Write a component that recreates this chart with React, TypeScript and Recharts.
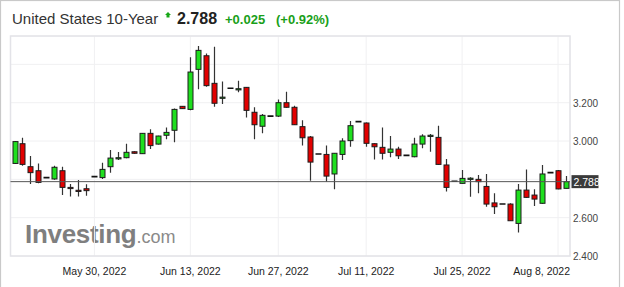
import React from 'react';
import { ComposedChart, Bar, XAxis, YAxis, CartesianGrid, ReferenceLine, ReferenceArea } from 'recharts';

// daily candles
const opens = [
  2.883, 2.986, 2.866, 2.845, 2.809, 2.802, 2.845, 2.758, 2.743, 2.751,
  2.814, 2.809, 2.866, 2.911, 2.913, 2.944, 2.934, 3.040, 2.984, 3.030,
  3.056, 3.181, 3.165, 3.374, 3.445, 3.301, 3.226, 3.275, 3.271, 3.280,
  3.150, 3.077, 3.130, 3.130, 3.200, 3.176, 3.075, 3.021, 2.932, 2.930,
  2.828, 2.930, 3.002, 3.101, 3.094, 2.986, 2.967, 2.941, 2.958, 2.925,
  2.918, 2.984, 3.028, 3.019, 2.875, 2.790, 2.779, 2.805, 2.800, 2.763,
  2.677, 2.671, 2.671, 2.570, 2.744, 2.718, 2.675, 2.835, 2.845, 2.753,
];
const highs = [
  3.000, 3.017, 2.922, 2.883, 2.809, 2.871, 2.866, 2.776, 2.797, 2.774,
  2.814, 2.887, 2.953, 2.943, 2.986, 2.946, 3.042, 3.061, 3.028, 3.071,
  3.170, 3.183, 3.437, 3.496, 3.457, 3.492, 3.310, 3.275, 3.315, 3.282,
  3.176, 3.141, 3.130, 3.216, 3.257, 3.184, 3.108, 3.026, 2.932, 2.976,
  2.936, 3.014, 3.104, 3.101, 3.097, 2.988, 3.071, 3.026, 2.970, 2.925,
  3.017, 3.035, 3.037, 3.080, 2.906, 2.790, 2.849, 2.811, 2.823, 2.828,
  2.727, 2.671, 2.675, 2.776, 2.852, 2.748, 2.875, 2.835, 2.849, 2.817,
];
const lows = [
  2.880, 2.871, 2.776, 2.779, 2.809, 2.798, 2.718, 2.710, 2.710, 2.715,
  2.814, 2.802, 2.835, 2.901, 2.910, 2.934, 2.932, 2.958, 2.982, 3.009,
  2.993, 3.167, 3.160, 3.270, 3.283, 3.179, 3.193, 3.275, 3.254, 3.123,
  3.009, 3.040, 3.130, 3.125, 3.174, 3.083, 2.976, 2.793, 2.932, 2.788,
  2.748, 2.901, 2.970, 3.101, 2.970, 2.904, 2.904, 2.915, 2.906, 2.925,
  2.915, 2.962, 2.944, 2.876, 2.736, 2.790, 2.777, 2.709, 2.727, 2.657,
  2.619, 2.671, 2.584, 2.522, 2.704, 2.661, 2.673, 2.835, 2.748, 2.752,
];
const closes = [
  2.997, 2.878, 2.835, 2.784, 2.809, 2.863, 2.758, 2.755, 2.740, 2.741,
  2.814, 2.852, 2.911, 2.913, 2.941, 2.936, 3.040, 2.976, 3.026, 3.045,
  3.165, 3.169, 3.360, 3.473, 3.289, 3.197, 3.229, 3.275, 3.273, 3.160,
  3.085, 3.134, 3.130, 3.200, 3.176, 3.085, 3.017, 2.890, 2.932, 2.817,
  2.936, 3.000, 3.080, 3.101, 2.988, 2.970, 2.936, 2.958, 2.923, 2.925,
  2.984, 3.026, 3.030, 2.878, 2.758, 2.790, 2.805, 2.806, 2.788, 2.671,
  2.657, 2.671, 2.584, 2.744, 2.706, 2.697, 2.828, 2.835, 2.750, 2.788,
];

const tickIdx = [10, 22, 33, 44, 56, 68];
const tickLabels = ['May 30, 2022', 'Jun 13, 2022', 'Jun 27, 2022', 'Jul 11, 2022', 'Jul 25, 2022', 'Aug 8, 2022'];
const priceTicks = [2.4, 2.6, 2.8, 3.0, 3.2, 3.4];
const labelledTicks = [2.4, 2.6, 3.0, 3.2];
const lastPrice = 2.788;

const W = 624;
const H = 287;
const margin = { top: 36, right: 4, bottom: 0, left: 10.5 };
const Y_W = 50;
const PLOT_RIGHT = W - margin.right - Y_W;
const FONT = '"Liberation Sans", Arial, Helvetica, sans-serif';

const UP = '#1fdf1f';
const DOWN = '#e20000';
const EDGE = '#1c1c1c';

const candles = opens.map((o, i) => ({ i, open: o, high: highs[i], low: lows[i], close: closes[i] }));

function Candle(props: any) {
  let { x, y, width, height, payload } = props;
  if (height < 0) { y += height; height = -height; }
  const { open, close, high, low } = payload;
  const cx = Math.round(x + width / 2) + 0.5;
  const span = high - low;
  const k = span > 0 ? height / span : 0;
  const yOf = (v: number) => y + (high - v) * k;

  if (span === 0) {
    // flat day, just a dash
    return <line x1={cx - 3} x2={cx + 3} y1={y} y2={y} stroke="#111" strokeWidth={1.6} />;
  }
  const top = yOf(Math.max(open, close));
  const bot = yOf(Math.min(open, close));
  const bh = Math.max(1.2, bot - top);
  return (
    <g>
      <line x1={cx} x2={cx} y1={y} y2={y + height} stroke="#333" strokeWidth={1.2} />
      <rect x={cx - 2.5} y={top} width={5} height={bh} fill={close >= open ? UP : DOWN} stroke={EDGE} strokeWidth={1} />
    </g>
  );
}

function DateTick(props: any) {
  const { x, y, payload } = props;
  const n = tickIdx.indexOf(payload.value);
  if (n < 0) return <g />;
  const label = tickLabels[n];
  const half = label.length * 2.6;
  const clamp = x + half > PLOT_RIGHT;
  return (
    <text x={clamp ? PLOT_RIGHT : x} y={y + 19} textAnchor={clamp ? 'end' : 'middle'} fontSize={10.5} fill="#222" fontFamily={FONT}>
      {label}
    </text>
  );
}

function PriceTick(props: any) {
  const { x, y, payload } = props;
  if (!labelledTicks.includes(payload.value)) return <g />;
  return (
    <text x={x} y={y + 4} fontSize={10} fill="#444" fontFamily={FONT}>
      {payload.value.toFixed(3)}
    </text>
  );
}

function PriceTag(props: any) {
  const { viewBox } = props;
  const x = viewBox.x + viewBox.width + 1.5;
  const y = viewBox.y;
  return (
    <g>
      <rect x={x} y={y - 6.5} width={27} height={13} fill="#3a3a3a" />
      <text x={x + 2} y={y + 4} fontSize={10.5} fill="#fff" fontFamily={FONT}>{lastPrice.toFixed(3)}</text>
    </g>
  );
}

export default function App() {
  return (
    <div style={{ position: 'absolute', left: 0, top: 0, width: W, height: H, background: '#fff', overflow: 'hidden' }}>
      <svg width={W} height={H} style={{ position: 'absolute', left: 0, top: 0 }}>
        <rect x={0.5} y={0.5} width={619} height={H + 10} fill="none" stroke="#c9c9c9" strokeWidth={1.2} />
        <text x={12} y={24} fontSize={15} fill="#333" fontFamily={FONT}>United States 10-Year</text>
        <path d="M168 12 L171 15 L169.5 15 L169.5 17.5 L166.5 17.5 L166.5 15 L165 15 Z" fill="#18a818" />
        <text x={177} y={24} fontSize={16} fontWeight="bold" fill="#222" fontFamily={FONT}>2.788</text>
        <text x={225} y={23.5} fontSize={13} fontWeight="bold" fill="#1a9f1a" fontFamily={FONT}>+0.025</text>
        <text x={276} y={23.5} fontSize={13} fontWeight="bold" fill="#1a9f1a" fontFamily={FONT}>(+0.92%)</text>
        <text x={25} y={243} fontFamily={FONT} fill="#7f7f7f">
          <tspan fontSize={26} fontWeight="bold" letterSpacing={-0.3}>Investing</tspan>
          <tspan fontSize={18} fill="#8a8a8a">.com</tspan>
        </text>
      </svg>
      <div style={{ position: 'absolute', left: 0, top: 0 }}>
        <ComposedChart width={W} height={H} data={candles} margin={margin} barCategoryGap={0}>
          <CartesianGrid stroke="#f0f0f2" />
          <ReferenceArea y1={2.4} y2={3.548} fill="none" stroke="#e3e3e8" strokeWidth={1.5} />
          <XAxis
            dataKey="i"
            type="category"
            ticks={tickIdx}
            interval={0}
            axisLine={false}
            tickLine={false}
            tickSize={0}
            tickMargin={0}
            height={31}
            tick={<DateTick />}
          />
          <YAxis
            orientation="right"
            domain={[2.4, 3.548]}
            ticks={priceTicks}
            allowDataOverflow
            axisLine={false}
            tickLine={false}
            tickSize={0}
            tickMargin={3}
            width={Y_W}
            tick={<PriceTick />}
          />
          <ReferenceLine y={lastPrice} stroke="#555" strokeWidth={1} label={<PriceTag />} />
          <Bar dataKey={(d: any) => [d.low, d.high]} shape={<Candle />} isAnimationActive={false} />
        </ComposedChart>
      </div>
    </div>
  );
}
